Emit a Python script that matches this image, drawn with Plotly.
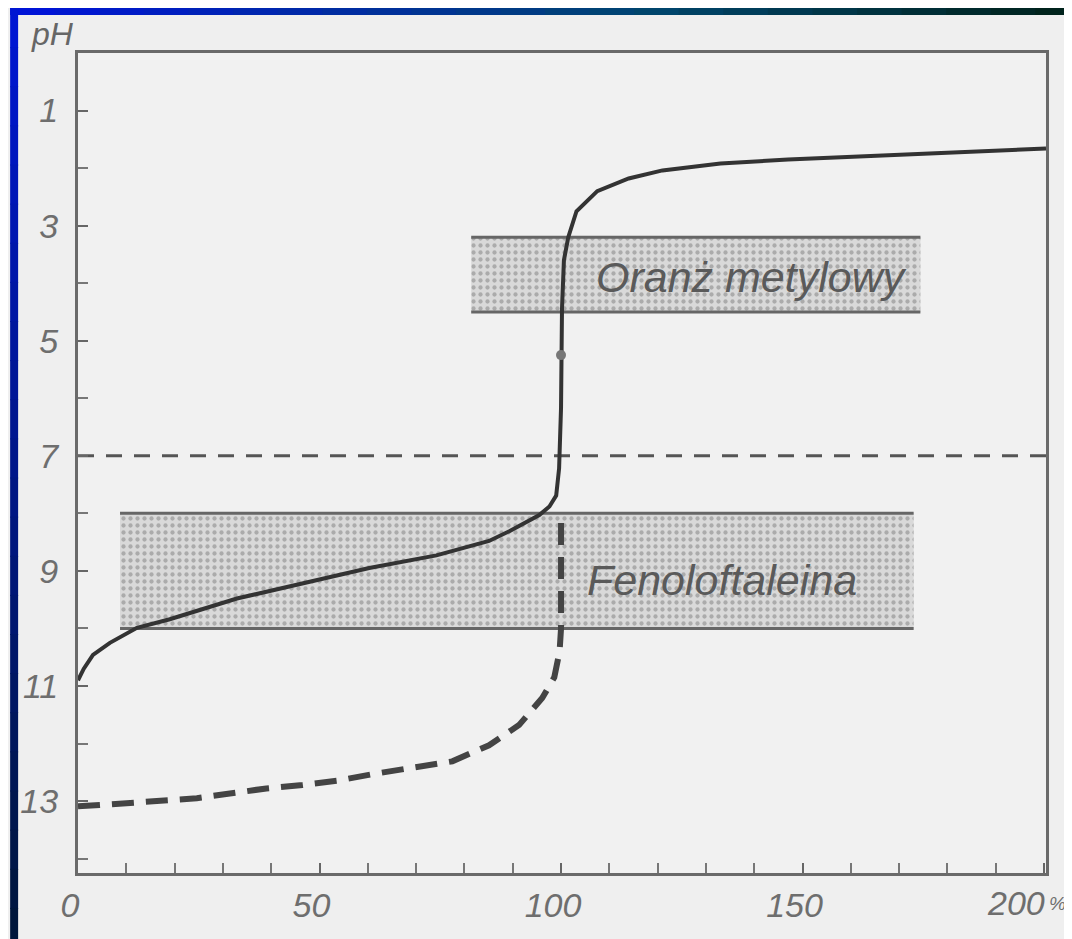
import plotly.graph_objects as go

# ---------------- data ----------------
# % of titrant added vs pH
pct_weak = [0, 1.2, 3.1, 6.6, 12.2, 19.0, 32.9, 46.5, 60.3, 74.2, 85.1, 89.3, 95.5,
            97.6, 99.0, 99.6, 100.0, 100.2, 100.6, 101.5, 103.2, 107.5, 114.0,
            121.0, 133.0, 147.0, 175.0, 200.4]
ph_weak = [10.9, 10.7, 10.46, 10.25, 9.99, 9.84, 9.48, 9.21, 8.95, 8.73, 8.48, 8.31, 8.03,
           7.88, 7.69, 7.22, 6.17, 4.44, 3.6, 3.2, 2.75, 2.4, 2.18,
           2.04, 1.92, 1.85, 1.75, 1.66]

pct_strong = [0, 4.5, 24.6, 39.0, 46.5, 54.1, 61.8, 69.2, 77.5, 85.1, 91.3, 96.1,
              98.6, 99.7, 100.0, 100.0]
ph_strong = [13.09, 13.07, 12.95, 12.78, 12.72, 12.64, 12.52, 12.43, 12.31, 12.03,
             11.68, 11.21, 10.85, 10.4, 10.0, 8.0]

neutral_ph = 7
equiv_pct = [100]
equiv_ph = [5.25]

indicator_names = ["Oranż metylowy", "Fenoloftaleina"]
indicator_low = [3.2, 8.0]
indicator_high = [4.5, 10.0]
indicator_x0 = [81.4, 8.7]
indicator_x1 = [174.4, 173.0]
label_x = [139.5, 133.3]
label_ph = [3.9, 9.16]

x_ticks = [0, 50, 100, 150, 200]
x_tick_text = ["0", "50", "100", "150", "200"]
y_ticks = [1, 3, 5, 7, 9, 11, 13]

# ---------------- figure ----------------
W, H = 1072, 939
L, R, T, B = 68, 34, 45, 74
X_MAX = 200.4
Y_MAX = 14.25

fig = go.Figure()

# indicator bands (stippled)
for i, name in enumerate(indicator_names):
    fig.add_trace(go.Bar(
        x=[(indicator_x0[i] + indicator_x1[i]) / 2],
        y=[indicator_high[i] - indicator_low[i]],
        base=[indicator_low[i]],
        width=[indicator_x1[i] - indicator_x0[i]],
        marker=dict(color="#d6d6d6", line=dict(width=0),
                    pattern=dict(shape=".", fgcolor="#7e7e7e", bgcolor="#d9d9d9",
                                 size=7, solidity=0.3)),
        hoverinfo="skip", showlegend=False))
    for yy in (indicator_low[i], indicator_high[i]):
        fig.add_trace(go.Scatter(
            x=[indicator_x0[i], indicator_x1[i]], y=[yy, yy], mode="lines",
            line=dict(color="#666666", width=3), hoverinfo="skip", showlegend=False))
    fig.add_annotation(x=label_x[i], y=label_ph[i], text=name, showarrow=False,
                       xanchor="center", yanchor="middle",
                       font=dict(family="Liberation Sans, Arial", size=43,
                                 color="#5a5a5a", style="italic"))

# neutral line
fig.add_trace(go.Scatter(x=[0, X_MAX], y=[neutral_ph, neutral_ph], mode="lines",
                         line=dict(color="#555555", width=3, dash="16px,12px"),
                         hoverinfo="skip", showlegend=False))

# strong base curve (dashed)
fig.add_trace(go.Scatter(x=pct_strong, y=ph_strong, mode="lines",
                         line=dict(color="#444444", width=6, dash="22px,12px"),
                         showlegend=False))

# weak base curve (solid)
fig.add_trace(go.Scatter(x=pct_weak, y=ph_weak, mode="lines",
                         line=dict(color="#333333", width=4),
                         showlegend=False))

fig.add_trace(go.Scatter(x=equiv_pct, y=equiv_ph, mode="markers",
                         marker=dict(color="#777777", size=10),
                         showlegend=False))

tickfont = dict(family="Liberation Sans, Arial", size=34, color="#6e6e6e", style="italic")

# last x label is drawn as an annotation (it sits left of its tick in the scan)
fig.update_xaxes(range=[0, X_MAX], tickvals=x_ticks,
                 ticktext=x_tick_text[:-1] + [""],
                 ticks="inside", ticklen=10, tickwidth=2, tickcolor="#666666",
                 minor=dict(dtick=10, ticks="inside", ticklen=10, tickwidth=2,
                            tickcolor="#777777", showgrid=False),
                 showline=True, linecolor="#6a6a6a", linewidth=3, mirror=True,
                 showgrid=False, zeroline=False, tickfont=tickfont,
                 ticklabelshift=-8)
fig.update_yaxes(range=[Y_MAX, 0], tickvals=y_ticks, ticktext=[str(v) for v in y_ticks],
                 ticks="inside", ticklen=10, tickwidth=2, tickcolor="#666666",
                 minor=dict(dtick=1, ticks="inside", ticklen=10, tickwidth=2,
                            tickcolor="#777777", showgrid=False),
                 showline=True, linecolor="#6a6a6a", linewidth=3, mirror=True,
                 showgrid=False, zeroline=False, tickfont=tickfont,
                 ticklabelstandoff=10)

def px_to_paper(px, py):
    return (px - L) / (W - L - R), (H - B - py) / (H - T - B)

# last x tick label + unit
_, ylab = px_to_paper(0, 895)
fig.add_annotation(x=x_ticks[-1], xref="x", yref="paper", y=ylab, xshift=-28,
                   text=x_tick_text[-1], showarrow=False, xanchor="center", yanchor="middle",
                   font=tickfont)
xp, _ = px_to_paper(1040, 0)
fig.add_annotation(xref="paper", yref="paper", x=xp, y=ylab, text="%", showarrow=False,
                   xanchor="left", yanchor="middle", borderpad=0,
                   font=dict(family="Liberation Sans, Arial", size=19, color="#6e6e6e",
                             style="italic"))

# pH caption
xp, yp = px_to_paper(42, 26)
fig.add_annotation(xref="paper", yref="paper", x=xp, y=yp, text="pH", showarrow=False,
                   xanchor="center", yanchor="middle",
                   font=dict(family="Liberation Sans, Arial", size=32, color="#666666",
                             style="italic"))

# blue slide border (gradient strips)
def lerp(c1, c2, t):
    return "rgb(%d,%d,%d)" % tuple(int(a + (b - a) * t) for a, b in zip(c1, c2))

shapes = []
N = 24
for k in range(N):
    t = k / (N - 1)
    if t < 0.6:
        col = lerp((0, 20, 215), (0, 70, 110), t / 0.6)
    else:
        col = lerp((0, 70, 110), (0, 35, 28), (t - 0.6) / 0.4)
    x0, y0 = px_to_paper(W * k / N, 0)
    x1, y1 = px_to_paper(W * (k + 1) / N + 1, 7)
    shapes.append(dict(type="rect", xref="paper", yref="paper", x0=x0, x1=x1, y0=y0, y1=y1,
                       fillcolor=col, line=dict(width=0), layer="above"))
    col2 = lerp((0, 22, 210), (0, 22, 60), t)
    x0, y0 = px_to_paper(0, H * k / N)
    x1, y1 = px_to_paper(8, H * (k + 1) / N + 1)
    shapes.append(dict(type="rect", xref="paper", yref="paper", x0=x0, x1=x1, y0=y0, y1=y1,
                       fillcolor=col2, line=dict(width=0), layer="above"))

fig.update_layout(width=W, height=H, margin=dict(l=L, r=R, t=T, b=B),
                  paper_bgcolor="#efefef", plot_bgcolor="#f1f1f1",
                  barmode="overlay", showlegend=False, shapes=shapes)

fig.write_html("out.html")
